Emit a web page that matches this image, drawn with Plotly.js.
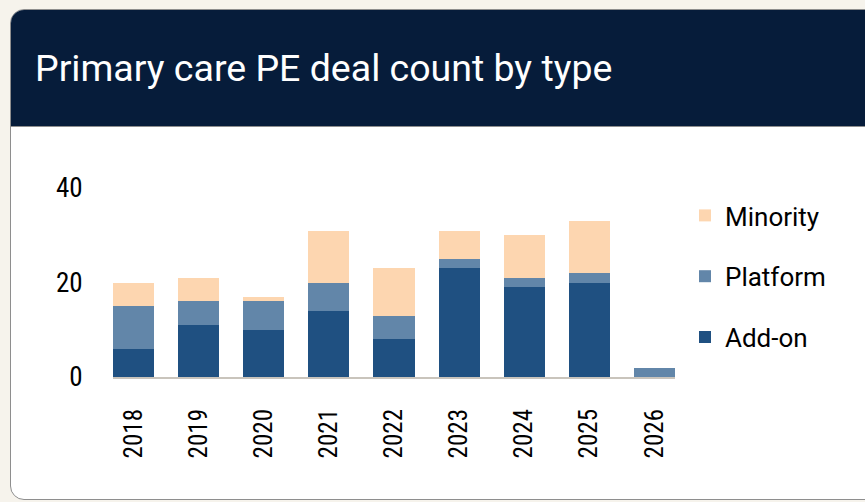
<!DOCTYPE html>
<html>
<head>
<meta charset="utf-8">
<script src="https://cdn.plot.ly/plotly-3.0.1.min.js"></script>
<style>
  html, body { margin:0; padding:0; width:865px; height:502px; overflow:hidden; background:#f6f3ec; }
  #card { position:absolute; left:10px; top:9px; width:900px; height:491px; background:#ffffff;
          border:1.5px solid #8e8e8e; border-radius:14px; overflow:hidden; box-sizing:border-box; }
  #hdr { height:116px; background:#061c3a; border-bottom:1.5px solid #8e8e8e; }
  #chart { position:absolute; left:0; top:0; width:865px; height:502px; }
</style>
</head>
<body>
<div id="card"><div id="hdr"></div></div>
<div id="chart"></div>
<script>
const years = ['2018','2019','2020','2021','2022','2023','2024','2025','2026'];
const addOn    = [6, 11, 10, 14, 8, 23, 19, 20, 0];
const platform = [9, 5, 6, 6, 5, 2, 2, 2, 2];
const minority = [5, 5, 1, 11, 10, 6, 9, 11, 0];
const seriesNames = ['Add-on', 'Platform', 'Minority'];
const seriesColors = ['#1f5081', '#6286a9', '#fdd6b0'];
const yTicks = [0, 20, 40];

const condensed = '"Roboto Condensed", "Liberation Sans Narrow", "DejaVu Sans Condensed", Roboto, sans-serif';

const data = [addOn, platform, minority].map((vals, i) => ({
  type: 'bar',
  x: years,
  y: vals,
  name: seriesNames[i],
  legendgroup: seriesNames[i],
  legendrank: 1000 - i,
  marker: { color: seriesColors[i], line: { width: 0 } },
  hoverinfo: 'x+y+name'
}));

const W = 865, H = 502;
const layout = {
  width: W, height: H,
  paper_bgcolor: 'rgba(0,0,0,0)',
  plot_bgcolor: 'rgba(0,0,0,0)',
  barmode: 'stack',
  bargap: 0.37,
  margin: { l: 113, r: 190, t: 188, b: 125, pad: 0 },
  title: {
    text: 'Primary care PE deal count by type',
    font: { family: 'Roboto, sans-serif', size: 37.5, weight: 400, color: '#ffffff' },
    xref: 'container', yref: 'container',
    x: 35 / W, xanchor: 'left',
    y: 1 - 68 / H, yanchor: 'middle'
  },
  xaxis: {
    type: 'category',
    range: [-0.315, 8.315],
    showline: true, linecolor: '#c9c4bc', linewidth: 2,
    ticks: 'outside', ticklen: 20, tickcolor: 'rgba(0,0,0,0)',
    tickangle: -90,
    tickfont: { family: condensed, size: 25, color: '#000000' },
    showgrid: false, zeroline: false, fixedrange: true
  },
  yaxis: {
    range: [0, 40],
    tickvals: yTicks, ticktext: yTicks.map(String),
    showline: false, showgrid: false, zeroline: false,
    ticks: 'outside', ticklen: 24, tickcolor: 'rgba(0,0,0,0)',
    tickfont: { family: condensed, size: 27, color: '#000000' },
    fixedrange: true
  },
  showlegend: true,
  legend: {
    xref: 'container', yref: 'container',
    x: 685 / W, xanchor: 'left',
    y: 1 - 192 / H, yanchor: 'top',
    traceorder: 'grouped',
    tracegroupgap: 24,
    bgcolor: 'rgba(0,0,0,0)',
    font: { family: 'Roboto, sans-serif', size: 26, color: '#000000' }
  }
};

Plotly.newPlot('chart', data, layout, { displayModeBar: false, staticPlot: true });
</script>
</body>
</html>
